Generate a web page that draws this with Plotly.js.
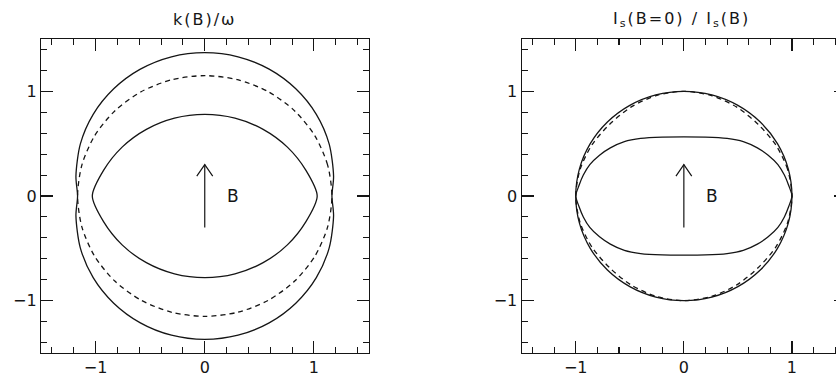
<!DOCTYPE html>
<html>
<head>
<meta charset="utf-8">
<script src="https://cdn.plot.ly/plotly-3.0.1.min.js"></script>
<style>
html,body{margin:0;padding:0;overflow:hidden;background:#fff;}
#chart{width:860px;height:377px;}
.annotation-text{letter-spacing:2px;}
</style>
</head>
<body>
<div id="chart"></div>
<script>
// ---- Data ----
const titles = ["k(B)/ω", "I<sub>s</sub>(B=0) / I<sub>s</sub>(B)"];
const tickVals = [-1, 0, 1];
const tickText = ["\u22121", "0", "1"];

// Left panel: k(B)/omega
const leftOuterX = [1.165, 1.180, 1.140, 1.022, 0.834, 0.590, 0.305, 0.000, -0.305, -0.590, -0.834, -1.022, -1.140, -1.180, -1.165,
                    -1.180, -1.140, -1.022, -0.834, -0.590, -0.305, 0.000, 0.305, 0.590, 0.834, 1.022, 1.140, 1.180, 1.165];
const leftOuterY = [0.000, 0.190, 0.495, 0.780, 1.024, 1.212, 1.330, 1.370, 1.330, 1.212, 1.024, 0.780, 0.495, 0.190, 0.000,
                    -0.190, -0.495, -0.780, -1.024, -1.212, -1.330, -1.370, -1.330, -1.212, -1.024, -0.780, -0.495, -0.190, 0.000];

const leftDashX = [1.165, 1.125, 1.009, 0.824, 0.583, 0.302, 0.000, -0.302, -0.583, -0.824, -1.009, -1.125, -1.165,
                   -1.125, -1.009, -0.824, -0.583, -0.302, 0.000, 0.302, 0.583, 0.824, 1.009, 1.125, 1.165];
const leftDashY = [0.000, 0.298, 0.575, 0.813, 0.996, 1.111, 1.150, 1.111, 0.996, 0.813, 0.575, 0.298, 0.000,
                   -0.298, -0.575, -0.813, -0.996, -1.111, -1.150, -1.111, -0.996, -0.813, -0.575, -0.298, 0.000];

const leftInnerX = [1.030, 0.927, 0.757, 0.535, 0.277, 0.000, -0.277, -0.535, -0.757, -0.927, -1.030,
                    -0.927, -0.757, -0.535, -0.277, 0.000, 0.277, 0.535, 0.757, 0.927, 1.030];
const leftInnerY = [0.000, 0.245, 0.467, 0.637, 0.744, 0.780, 0.744, 0.637, 0.467, 0.245, 0.000,
                    -0.245, -0.467, -0.637, -0.744, -0.780, -0.744, -0.637, -0.467, -0.245, 0.000];

// Right panel: Is(B=0)/Is(B)
const rightOuterX = [1.000, 0.966, 0.866, 0.707, 0.500, 0.259, 0.000, -0.259, -0.500, -0.707, -0.866, -0.966, -1.000,
                     -0.966, -0.866, -0.707, -0.500, -0.259, 0.000, 0.259, 0.500, 0.707, 0.866, 0.966, 1.000];
const rightOuterY = [0.000, 0.259, 0.500, 0.707, 0.866, 0.966, 1.000, 0.966, 0.866, 0.707, 0.500, 0.259, 0.000,
                     -0.259, -0.500, -0.707, -0.866, -0.966, -1.000, -0.966, -0.866, -0.707, -0.500, -0.259, 0.000];

const rightDashX = [1.000, 0.959, 0.849, 0.686, 0.490, 0.257, 0.000, -0.257, -0.490, -0.686, -0.849, -0.959, -1.000,
                    -0.959, -0.849, -0.686, -0.490, -0.257, 0.000, 0.257, 0.490, 0.686, 0.849, 0.959, 1.000];
const rightDashY = [0.000, 0.257, 0.490, 0.686, 0.849, 0.959, 1.000, 0.959, 0.849, 0.686, 0.490, 0.257, 0.000,
                    -0.257, -0.490, -0.686, -0.849, -0.959, -1.000, -0.959, -0.849, -0.686, -0.490, -0.257, 0.000];

const rightInnerX = [1.000, 0.970, 0.930, 0.870, 0.780, 0.680, 0.550, 0.400, 0.200, 0.000, -0.200, -0.400, -0.550, -0.680, -0.780, -0.870, -0.930, -0.970, -1.000,
                     -0.970, -0.930, -0.870, -0.780, -0.680, -0.550, -0.400, -0.200, 0.000, 0.200, 0.400, 0.550, 0.680, 0.780, 0.870, 0.930, 0.970, 1.000];
const rightInnerY = [0.000, 0.100, 0.200, 0.300, 0.390, 0.460, 0.520, 0.550, 0.563, 0.565, 0.563, 0.550, 0.520, 0.460, 0.390, 0.300, 0.200, 0.100, 0.000,
                     -0.100, -0.200, -0.300, -0.390, -0.460, -0.520, -0.550, -0.563, -0.565, -0.563, -0.550, -0.520, -0.460, -0.390, -0.300, -0.200, -0.100, 0.000];

// ---- Build chart ----
const W = 860, H = 377;
const FONT = '"DejaVu Sans", "Liberation Sans", Arial, sans-serif';
const INK = '#151515';
const solid = {color: INK, width: 1.3, shape: 'spline', smoothing: 0.8};
const dashed = {color: INK, width: 1.3, dash: '5px,4px', shape: 'spline', smoothing: 0.8};

const traces = [
  {x: leftOuterX, y: leftOuterY, xaxis: 'x', yaxis: 'y', mode: 'lines', line: solid},
  {x: leftDashX, y: leftDashY, xaxis: 'x', yaxis: 'y', mode: 'lines', line: dashed},
  {x: leftInnerX, y: leftInnerY, xaxis: 'x', yaxis: 'y', mode: 'lines', line: solid},
  {x: rightOuterX, y: rightOuterY, xaxis: 'x2', yaxis: 'y2', mode: 'lines', line: solid},
  {x: rightDashX, y: rightDashY, xaxis: 'x2', yaxis: 'y2', mode: 'lines', line: dashed},
  {x: rightInnerX, y: rightInnerY, xaxis: 'x2', yaxis: 'y2', mode: 'lines', line: solid}
];

function axis(domain, anchor) {
  return {
    domain: domain, anchor: anchor, range: [-1.5, 1.5],
    tickmode: 'array', tickvals: tickVals, ticktext: tickText,
    ticks: 'inside', ticklen: 12, tickwidth: 1.1, tickcolor: INK,
    minor: {ticks: 'inside', ticklen: 6, tickwidth: 1.1, tickcolor: INK, dtick: 0.2, tick0: 0, showgrid: false},
    showline: true, linecolor: INK, linewidth: 1.2, mirror: 'allticks',
    showgrid: false, zeroline: false,
    tickfont: {family: FONT, size: 16, color: INK},
    fixedrange: true
  };
}

const yDom = [(H - 353) / H, (H - 39) / H];
const titleFont = {family: FONT, size: 16, color: INK};
const layout = {
  width: W, height: H,
  margin: {l: 0, r: 0, t: 0, b: 0},
  paper_bgcolor: '#fff', plot_bgcolor: '#fff',
  showlegend: false,
  xaxis: axis([41 / W, 368.5 / W], 'y'),
  yaxis: axis(yDom, 'x'),
  xaxis2: axis([521.7 / W, 846 / W], 'y2'),
  yaxis2: axis(yDom, 'x2'),
  annotations: [
    {xref: 'paper', yref: 'paper', x: 205 / W, y: (H - 19) / H, xanchor: 'center', yanchor: 'middle',
     text: titles[0], showarrow: false, font: titleFont},
    {xref: 'paper', yref: 'paper', x: 681 / W, y: (H - 19) / H, xanchor: 'center', yanchor: 'middle',
     text: titles[1], showarrow: false, font: titleFont},
    {xref: 'x', yref: 'y', x: 0.27, y: 0, text: 'B', showarrow: false, xanchor: 'center', yanchor: 'middle',
     font: {family: FONT, size: 17, color: INK}},
    {xref: 'x2', yref: 'y2', x: 0.27, y: 0, text: 'B', showarrow: false, xanchor: 'center', yanchor: 'middle',
     font: {family: FONT, size: 17, color: INK}}
  ],
  shapes: ['', '2'].flatMap(s => [
    {type: 'line', xref: 'x' + s, yref: 'y' + s, x0: 0, x1: 0, y0: -0.3, y1: 0.3, line: {color: INK, width: 1.2}},
    {type: 'path', xref: 'x' + s, yref: 'y' + s, path: 'M -0.073 0.19 L 0 0.3 L 0.073 0.19', line: {color: INK, width: 1.2}}
  ])
};

Plotly.newPlot('chart', traces, layout, {displayModeBar: false, staticPlot: true});
</script>
</body>
</html>
